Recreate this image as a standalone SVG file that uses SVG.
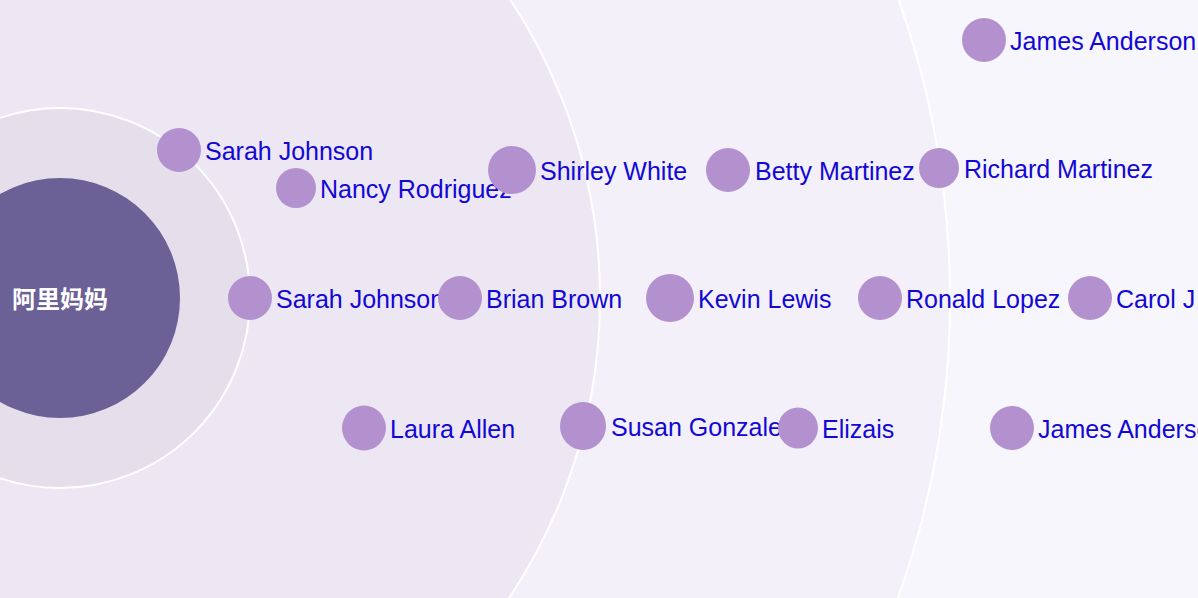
<svg xmlns="http://www.w3.org/2000/svg" width="1198" height="598" viewBox="0 0 1198 598">
<style>
.ring{stroke:#ffffff;stroke-width:2}
.node{fill:#b391cf}
.lbl{font-family:"Liberation Sans",Arial,sans-serif;font-size:25px;fill:#1208d4}
.center{font-family:"Noto Sans CJK SC","Noto Sans CJK JP",sans-serif;font-size:24px;font-weight:bold;fill:#ffffff;text-anchor:middle}
</style>
<rect x="0" y="0" width="1198" height="598" fill="#f8f6fd"/>
<g id="rings">
<circle class="ring" cx="60" cy="298" r="890" fill="#f4f0f9"/>
<circle class="ring" cx="60" cy="298" r="540" fill="#ede7f3"/>
<circle class="ring" cx="60" cy="298" r="190" fill="#e4dfeb"/>
</g>
<g id="center">
<circle cx="60" cy="298" r="120" fill="#6c6196"/>
<text class="center" x="60" y="308">阿里妈妈</text>
</g>
<g id="connectors"></g>
<g id="n-sarah-johnson-1"><circle class="node" cx="179" cy="150" r="22"/><text class="lbl" x="205" y="160">Sarah Johnson</text></g>
<g id="n-nancy-rodriguez"><circle class="node" cx="296" cy="188" r="20"/><text class="lbl" x="320" y="198">Nancy Rodriguez</text></g>
<g id="n-sarah-johnson-2"><circle class="node" cx="250" cy="298" r="22"/><text class="lbl" x="276" y="308">Sarah Johnson</text></g>
<g id="n-brian-brown"><circle class="node" cx="460" cy="298" r="22"/><text class="lbl" x="486" y="308">Brian Brown</text></g>
<g id="n-shirley-white"><circle class="node" cx="512" cy="170" r="24"/><text class="lbl" x="540" y="180">Shirley White</text></g>
<g id="n-betty-martinez"><circle class="node" cx="728" cy="170" r="22"/><text class="lbl" x="755" y="180">Betty Martinez</text></g>
<g id="n-kevin-lewis"><circle class="node" cx="670" cy="298" r="24"/><text class="lbl" x="698" y="308">Kevin Lewis</text></g>
<g id="n-richard-martinez"><circle class="node" cx="939" cy="168" r="20"/><text class="lbl" x="964" y="178">Richard Martinez</text></g>
<g id="n-james-anderson-1"><circle class="node" cx="984" cy="40" r="22"/><text class="lbl" x="1010" y="50">James Anderson</text></g>
<g id="n-ronald-lopez"><circle class="node" cx="880" cy="298" r="22"/><text class="lbl" x="906" y="308">Ronald Lopez</text></g>
<g id="n-carol"><circle class="node" cx="1090" cy="298" r="22"/><text class="lbl" x="1116" y="308">Carol J</text></g>
<g id="n-laura-allen"><ellipse class="node" cx="364" cy="428" rx="22" ry="22.5"/><text class="lbl" x="390" y="438">Laura Allen</text></g>
<g id="n-susan-gonzalez"><ellipse class="node" cx="583" cy="426" rx="23" ry="24"/><text class="lbl" x="611" y="436">Susan Gonzalez</text></g>
<g id="n-elizais"><ellipse class="node" cx="798" cy="428" rx="20" ry="20.5"/><text class="lbl" x="822" y="438">Elizais</text></g>
<g id="n-james-anderson-2"><circle class="node" cx="1012" cy="428" r="22"/><text class="lbl" x="1038" y="438">James Anderson</text></g>
</svg>
